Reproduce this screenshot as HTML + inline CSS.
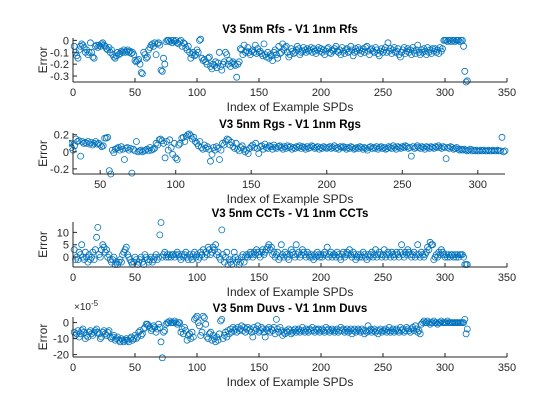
<!DOCTYPE html>
<html><head><meta charset="utf-8"><style>
body{margin:0;background:#fff;}
svg{display:block;font-family:"Liberation Sans",Arial,sans-serif;}
</style></head><body>
<svg id="fig" width="560" height="420" viewBox="0 0 560 420"></svg>
<script>
const rfs=[-0.05,-0.1,-0.13,-0.15,-0.08,-0.05,-0.03,-0.04,-0.06,-0.1,
-0.08,-0.12,-0.1,-0.02,-0.1,-0.14,-0.15,-0.05,-0.04,-0.06,
-0.04,-0.05,-0.03,-0.02,-0.04,-0.05,-0.07,-0.08,-0.06,-0.1,
-0.08,-0.12,-0.14,-0.15,-0.13,-0.1,-0.12,-0.11,-0.09,-0.1,
-0.08,-0.1,-0.09,-0.08,-0.1,-0.09,-0.11,-0.1,-0.12,-0.17,
-0.18,-0.17,-0.16,-0.2,-0.27,-0.28,-0.1,-0.12,-0.15,-0.14,
-0.08,-0.06,-0.04,-0.03,-0.05,-0.02,-0.12,-0.03,-0.02,-0.04,
-0.25,-0.26,-0.15,-0.2,-0.01,0,0,-0.01,0,-0.02,
0,-0.01,0,-0.02,-0.03,-0.01,0,-0.05,-0.02,-0.03,
-0.06,-0.08,-0.05,-0.1,-0.15,-0.12,-0.1,-0.13,-0.12,-0.08,
-0.1,0,0.01,-0.15,-0.17,-0.16,-0.18,-0.2,-0.15,-0.14,
-0.22,-0.24,-0.2,-0.21,-0.18,-0.23,-0.19,-0.1,-0.22,-0.25,
-0.2,-0.18,-0.1,-0.12,-0.2,-0.17,-0.22,-0.19,-0.18,-0.2,
-0.21,-0.31,-0.2,-0.18,-0.07,-0.08,-0.12,-0.04,-0.1,-0.09,
-0.06,-0.1,-0.12,-0.09,-0.08,-0.1,-0.04,-0.11,-0.07,-0.1,
-0.09,-0.11,-0.13,-0.03,-0.12,-0.14,-0.1,-0.15,-0.12,-0.13,
-0.17,-0.1,-0.08,-0.12,-0.15,-0.05,-0.11,-0.1,-0.03,-0.08,
-0.06,-0.05,-0.1,-0.14,-0.12,-0.07,-0.09,-0.11,-0.1,-0.08,
-0.05,-0.07,-0.12,-0.1,-0.09,-0.06,-0.08,-0.1,-0.07,-0.09,
-0.08,-0.06,-0.1,-0.07,-0.09,-0.11,-0.08,-0.06,-0.09,-0.07,
-0.1,-0.08,-0.12,-0.09,-0.07,-0.06,-0.1,-0.11,-0.08,-0.09,
-0.07,-0.05,-0.09,-0.1,-0.08,-0.12,-0.06,-0.09,-0.11,-0.08,
-0.07,-0.1,-0.09,-0.05,-0.08,-0.13,-0.1,-0.07,-0.09,-0.06,
-0.08,-0.11,-0.09,-0.07,-0.1,-0.06,-0.05,-0.09,-0.12,-0.08,
-0.07,-0.09,-0.1,-0.06,-0.08,-0.11,-0.13,-0.09,-0.07,-0.1,
-0.08,-0.06,-0.1,-0.02,-0.09,-0.07,-0.11,-0.08,-0.06,-0.1,
-0.09,-0.07,-0.12,-0.14,-0.1,-0.08,-0.06,-0.11,-0.09,-0.07,
-0.1,-0.08,-0.12,-0.06,-0.09,-0.11,-0.08,-0.04,-0.1,-0.12,
-0.08,-0.1,-0.07,-0.09,-0.12,-0.06,-0.1,-0.08,-0.11,-0.07,
-0.09,-0.07,-0.1,-0.08,-0.11,-0.06,-0.09,-0.07,0,0,
0,-0.01,0,0,-0.01,0,0,-0.01,0,0,
0,-0.01,0,0,-0.05,-0.26,-0.35,-0.34];
const rgs=[0.1,0.1,0.1,0.1,0.1,0.1,0.1,0.1,0.1,0.1,
0.1,0.1,0.1,0.1,0.1,0.1,0.1,0.1,0.1,0.1,
0.1,0.1,0.1,0.1,0.1,0.1,0.1,0.1,0.1,0.1,
0.05,0.02,0.07,0.15,0.12,0.13,-0.05,0.12,0.1,0.11,
0.1,0.12,0.09,0.11,0.08,0.1,0.12,0.09,0.1,0.08,
0.06,0.07,0.16,0.16,0.17,-0.22,-0.26,0.02,-0.01,0.03,
0.04,0.05,0.02,0.06,0.03,-0.09,0.04,0.05,0.02,0.04,
-0.25,0.03,0.01,0.12,0,0.01,0.02,0,0.01,0.02,
0.03,0.01,0.05,0.02,0.03,0.04,0.1,0.08,0.14,0.15,
0.13,0.1,-0.07,0.12,0.02,0.14,0.05,-0.03,0.1,-0.07,
-0.09,0.08,0.1,0.16,0.17,0.12,0.18,0.2,0.21,0.19,
0.15,0.17,0.12,0.1,0.07,0.12,0.05,0.03,0.08,0.04,
0.06,0.03,-0.11,-0.03,0.05,0.02,0.06,0.04,-0.09,0.02,
0.1,0.08,0.12,0.15,0.14,0.08,0.11,0.06,0.04,0.1,
0.03,0.01,0.05,0.07,0.03,0,0.02,-0.02,0.04,0.06,
0.08,0.05,0.1,0.04,-0.02,0.06,0.07,0.03,0.09,0.05,
0.04,0.07,0.06,0.03,0.08,0.05,0.04,0.06,0.07,0.05,
0.03,0.06,0.04,0.07,0.05,0.06,0.03,0.05,0.04,0.06,
0.05,0.07,0.04,0.06,0.05,0.03,0.06,0.04,0.05,0.07,
0.06,0.04,0.05,0.06,0.03,0.05,0.04,0.06,0.05,0.04,
0.05,0.06,0.04,0.05,0.07,0.04,0.05,0.03,0.06,0.05,
0.06,0.05,0.03,0.05,0.04,0.06,0.05,0.03,0.04,0.05,
0.04,0.06,0.05,0.03,0.05,0.04,0.02,0.05,0.06,0.04,
0.05,0.04,0.06,0.03,0.05,0.06,0.04,0.05,0.03,0.04,
0.06,0.05,0.04,0.07,0.05,0.03,0.06,0.05,0.04,0.06,
0.05,0.07,0.06,0.04,0.05,-0.05,0.06,0.04,0.05,0.07,
0.05,0.04,0.06,0.05,0.03,0.06,0.05,0.04,0.06,0.05,
0.04,0.06,0.05,0.07,0.05,0.04,0.06,0.05,-0.08,0.05,
0.04,0.06,0.05,0.03,0.04,0.05,0.03,0.02,0.03,0.02,
0.03,0.02,0.01,0.02,0.03,0.01,0.02,0.01,0.02,0.01,
0.01,0.02,0.01,0.02,0.01,0.01,0.02,0.01,0.01,0.02,
0.01,0.01,0.02,0.01,0.01,0.17,0.0,0.01];
const ccts=[3,-1,0,-1,2,1,5,0,-1,2,
0,-2,1,-1,0,2,-1,3,8,12,
1,0,3,5,4,2,3,0,1,-1,
-2,-1,0,-3,-2,-3,-2,-1,-2,1,
2,3,4,1,0,-1,-2,-3,-2,0,
-1,-3,-2,-1,0,-2,-3,1,0,-1,
-2,-1,0,-2,-1,0,1,-1,0,9,
14,0,1,2,0,1,0,1,0,1,
1,0,1,2,1,0,-1,1,0,1,
2,0,-1,1,0,-1,1,2,0,1,
-1,0,2,1,3,0,2,1,4,3,
1,2,4,3,5,1,2,0,-1,11,
1,-2,0,2,-3,-1,-2,-3,-1,2,
0,-2,-1,-3,-2,0,1,-2,0,1,
0,1,2,1,0,2,1,3,2,1,
0,2,3,1,2,3,4,5,3,4,
1,2,0,1,2,-1,0,5,1,0,
2,1,0,-1,1,3,2,1,0,5,
1,2,0,1,3,2,1,0,2,1,
0,1,0,-1,1,0,2,1,0,1,
0,1,2,1,4,0,1,2,0,1,
1,0,2,1,0,-1,1,2,0,1,
2,1,3,1,0,2,1,-1,0,1,
0,1,0,2,1,0,-1,1,0,1,
2,0,1,3,0,1,2,1,0,1,
3,0,1,2,1,0,2,1,0,1,
2,1,0,2,5,1,0,2,1,3,
2,1,0,1,2,0,1,5,1,0,
2,1,0,1,2,4,3,6,5,5,
-1,0,1,0,2,1,3,2,1,0,
1,0,1,0,1,1,0,1,0,1,
0,1,1,1,0,-3,-3,-3];
const duvs=[-6,-8,-7,-5,-9,-7,-5,-4,-6,-10,
-8,-9,-6,-5,-7,-8,-6,-5,-4,-6,
-7,-10,-9,-6,-5,-7,-8,-6,-5,-9,
-10,-9,-8,-11,-10,-9,-11,-12,-10,-11,
-12,-11,-10,-11,-12,-10,-9,-11,-10,-8,
-10,-9,-6,-5,-8,-7,-4,-3,-1,-1,
-2,-3,-5,-4,-2,-3,-6,-4,-1,-3,
-12,-22,-6,-5,-1,0,0,1,0,0,
0,1,0,-1,0,0,-6,-4,-7,-3,
-5,-11,-8,-7,-10,-6,-9,2,3,4,
0,-2,-8,-6,4,3,-1,-9,-10,-7,
-6,-11,-8,-10,-12,-9,-11,-7,1,2,
-10,-8,-6,-9,-5,-7,-4,-6,-3,-5,
-4,-6,-3,-5,-4,-2,-5,-3,-6,-4,
-3,-5,-4,-6,-9,-3,-5,-4,-2,-6,
-5,-3,-4,-6,-9,-4,-5,-3,-6,-4,
-5,-3,-7,2,-4,-6,-3,-5,-8,-6,
-7,-5,-6,-4,-5,-7,-6,-5,-4,-6,
-5,-4,-6,-5,-3,-5,-6,-4,-5,-6,
-4,-5,-3,-5,-6,-4,-5,-4,-6,-5,
-4,-5,-6,-3,-5,-4,-6,-5,-4,-5,
-6,-5,-4,-6,-5,-3,-5,-4,-6,-5,
-4,-6,-5,-4,-7,-5,-4,-6,-5,-4,
-5,-6,-4,-5,-7,-5,-6,-2,-5,-4,
-6,-5,-4,-6,-5,-7,-5,-4,-6,-5,
-5,-4,-6,-5,-3,-6,-5,-4,-6,-5,
-4,-5,-6,-3,-5,-4,-6,-5,-3,-4,
-5,-6,-4,-3,-5,-2,-4,-6,-5,-7,
-1,0,1,0,0,1,0,-1,0,0,
1,0,0,-1,0,0,1,0,0,0,
0,1,0,0,0,0,0,0,0,0,
0,0,0,0,0,2,-7,-4];
const xticksA=[0,50,100,150,200,250,300,350];
const xticksB=[50,100,150,200,250,300];

const NS="http://www.w3.org/2000/svg";
const svg=document.getElementById('fig');
function mk(tag,attrs,parent){const e=document.createElementNS(NS,tag);for(const k in attrs)e.setAttribute(k,attrs[k]);(parent||svg).appendChild(e);return e;}
function txt(s,attrs,parent){const e=mk('text',attrs,parent);e.textContent=s;return e;}

const panels=[
 {name:'rfs',title:'V3 5nm Rfs - V1 1nm Rfs',data:rfs,top:38,bot:82,xl:[0,350],yl:[-0.35,0.02],xt:xticksA,yt:[-0.3,-0.2,-0.1,0],yf:v=>v===0?'0':v.toFixed(1)},
 {name:'rgs',title:'V3 5nm Rgs - V1 1nm Rgs',data:rgs,top:133,bot:174,xl:[32,318],yl:[-0.26,0.22],xt:xticksB,yt:[-0.2,0,0.2],yf:v=>v===0?'0':v.toFixed(1),right:505},
 {name:'ccts',title:'V3 5nm CCTs - V1 1nm CCTs',data:ccts,top:222,bot:267,xl:[0,350],yl:[-4,14.2],xt:xticksA,yt:[0,5,10],yf:v=>String(v)},
 {name:'duvs',title:'V3 5nm Duvs - V1 1nm Duvs',data:duvs,top:317,bot:357,xl:[0,350],yl:[-21.5,3.5],xt:xticksA,yt:[-20,-10,0],yf:v=>String(v),exp:true}
];
const L=73;
panels.forEach((p,pi)=>{
  const R=p.right||507;
  const g=mk('g',{});
  
  
  const sx=v=>L+(v-p.xl[0])/(p.xl[1]-p.xl[0])*(R-L);
  const sy=v=>p.bot-(v-p.yl[0])/(p.yl[1]-p.yl[0])*(p.bot-p.top);
  const cid='clip'+pi;
  const cp=mk('clipPath',{id:cid},g);mk('rect',{x:L-4,y:p.top-4,width:R-L+8,height:p.bot-p.top+8},cp);
  const mg=mk('g',{'clip-path':'url(#'+cid+')'},g);
  
  
  p.data.forEach((v,i)=>{
    const c=mk('circle',{cx:sx(i+1).toFixed(1),cy:sy(v).toFixed(1),r:3,fill:'none',stroke:'#0072BD','stroke-width':0.8},mg);
    
    
  });
  const xa=mk('line',{x1:L,y1:p.bot,x2:R,y2:p.bot,stroke:'#262626','stroke-width':1},g);
  
  
  const ya=mk('line',{x1:L,y1:p.top,x2:L,y2:p.bot,stroke:'#262626','stroke-width':1},g);
  
  
  p.xt.forEach(t=>{const x=sx(t);mk('line',{x1:x,y1:p.bot,x2:x,y2:p.bot-4,stroke:'#262626'},g);
    const e=txt(String(t),{x:x,y:p.bot+14,'font-size':11,'text-anchor':'middle',fill:'#262626'},g);
    
    });
  p.yt.forEach(t=>{const y=sy(t);mk('line',{x1:L,y1:y,x2:L+4,y2:y,stroke:'#262626'},g);
    const e=txt(p.yf(t),{x:L-4,y:y+4,'font-size':11,'text-anchor':'end',fill:'#262626'},g);
    
    });
  const ti=txt(p.title,{x:290,y:p.top-5,'font-size':11.5,'font-weight':'bold','text-anchor':'middle',fill:'#000'},g);
  
  
  const xlab=txt('Index of Example SPDs',{x:290,y:p.bot+29,'font-size':12,'text-anchor':'middle',fill:'#262626'},g);
  
  
  const yc=(p.top+p.bot)/2;
  const ylab=txt('Error',{x:47,y:yc,'font-size':12,'text-anchor':'middle',fill:'#262626',transform:'rotate(-90 47 '+yc+')'},g);
  
  
  if(p.exp){
    const ex=txt('×10',{x:74,y:p.top-7,'font-size':10,fill:'#262626'},g);
    const sup=mk('tspan',{dy:-4,'font-size':8},ex);sup.textContent='-5';
    
    
  }
});
</script>
</body></html>
